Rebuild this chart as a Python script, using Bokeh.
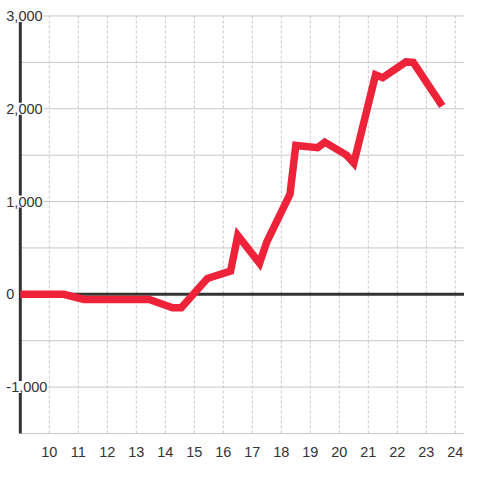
from bokeh.plotting import figure
from bokeh.models import Range1d, FixedTicker
from bokeh.core.properties import value
from bokeh.embed import file_html
from bokeh.resources import INLINE

# data
hours = [9, 10.5, 11.2, 13.45, 14.25, 14.55, 15.45, 16.25, 16.5, 17.25, 17.5,
         18.3, 18.5, 19.25, 19.5, 20.25, 20.5, 21.25, 21.5, 22.3, 22.55, 23.55]
values = [0, 0, -55, -55, -145, -145, 170, 250, 635, 335, 565,
          1080, 1605, 1580, 1640, 1500, 1415, 2365, 2335, 2505, 2500, 2030]

x_ticks = [10, 11, 12, 13, 14, 15, 16, 17, 18, 19, 20, 21, 22, 23, 24]
y_grid = [-1500, -1000, -500, 500, 1000, 1500, 2000, 2500, 3000]
y_label_vals = [3000, 2000, 1000, 0, -1000]
y_label_text = ["3,000", "2,000", "1,000", "0", "-1,000"]

X0, X1 = 8.317, 24.317
Y0, Y1 = -1510.8, 3166.7
AX = 9
YB, YT = -1500, 3000

FONT = value("Liberation Sans")
TXT = "#333333"

p = figure(width=464, height=464, output_backend="svg", toolbar_location=None,
           x_range=Range1d(X0, X1), y_range=Range1d(Y0, Y1),
           min_border_left=0, min_border_right=0, min_border_top=0,
           min_border_bottom=30)
p.outline_line_color = None
p.background_fill_color = "white"
p.grid.visible = False
p.yaxis.visible = False

xa = p.xaxis[0]
xa.ticker = FixedTicker(ticks=x_ticks)
xa.axis_line_color = None
xa.major_tick_line_color = None
xa.minor_tick_line_color = None
xa.major_label_text_font = "Liberation Sans"
xa.major_label_text_font_size = "14.5px"
xa.major_label_text_color = TXT
xa.major_label_standoff = 6

# vertical dotted grid
p.segment(x0=x_ticks, y0=[YB] * len(x_ticks), x1=x_ticks, y1=[YT] * len(x_ticks),
          line_color="#c8c8c8", line_width=1, line_dash="3 2")
# horizontal grid
p.segment(x0=[AX] * len(y_grid), y0=y_grid, x1=[X1] * len(y_grid), y1=y_grid,
          line_color="#c8c8c8", line_width=1)
# zero line and axis line
p.segment(x0=[AX], y0=[0], x1=[X1], y1=[0], line_color="#333333", line_width=3)
p.segment(x0=[AX], y0=[YB], x1=[AX], y1=[YT], line_color="#333333", line_width=3)

# y labels with white background
p.text(x=[AX] * len(y_label_vals), y=y_label_vals, text=y_label_text,
       x_offset=-15, text_align="left", text_baseline="middle",
       text_font=FONT, text_font_size="14.5px", text_color=TXT,
       background_fill_color="white", padding=1)

# data line
p.line(hours, values, line_color="#EE2238", line_width=7.5, line_join="miter")

open("out.html", "w").write(file_html(p, INLINE))
